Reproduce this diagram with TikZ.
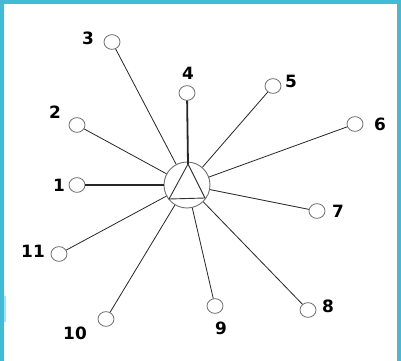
\documentclass[tikz,border=0pt]{standalone}
\usepackage{fontspec}
\setmainfont{DejaVu Sans}
\definecolor{framecol}{RGB}{66,188,214}
\definecolor{ringgray}{RGB}{110,110,110}

\begin{document}
\begin{tikzpicture}[x=1bp, y=-1bp,
  leaf/.style={circle, draw=ringgray, line width=0.8bp, minimum size=16bp, inner sep=0pt, yscale=0.92},
  hub/.style={circle, draw=ringgray, line width=0.9bp, minimum size=46bp, inner sep=0pt},
  spoke/.style={line width=0.8bp, black!85},
  heavy/.style={line width=1.8bp, black!85},
  num/.style={font=\fontsize{17}{17}\selectfont\bfseries, inner sep=0pt}]

% Frame
\useasboundingbox (0,0) rectangle (401,361);
\fill[framecol] (0,0) rectangle (401,4);
\fill[framecol] (0,0) rectangle (4,361);
\fill[framecol] (397,0) rectangle (401,361);
\fill[framecol!45] (4,296) rectangle (6,322);

% Hub
\node[hub] (hub) at (187,185) {};
\coordinate (apex) at (188,164);
\draw[line width=0.9bp, black!80] (apex) -- (169,199) -- (205,198) -- cycle;

% Leaves and numbers
\foreach \n/\x/\y/\tx/\ty in {
  1/77/185/59/185, 2/77/125/55/112, 3/112/42/88/38,
  4/187/93/188/73, 5/273/86/291/81, 6/355/124/380/124,
  7/317/211/338/211, 8/308/310/328/306, 9/215/306/221/328,
  10/106/319/75/333, 11/59/254/33/251}
{
\node[leaf] (l\n) at (\x,\y) {};
\node[num] (t\n) at (\tx,\ty) {\n};
}

% Spokes
\foreach \n in {2,3,5,6,7,8,9,10,11}
  \draw[spoke] (l\n) -- (hub);
\draw[heavy] (l1) -- (hub);
\draw[heavy] (l4) -- (apex);

\end{tikzpicture}
\end{document}
